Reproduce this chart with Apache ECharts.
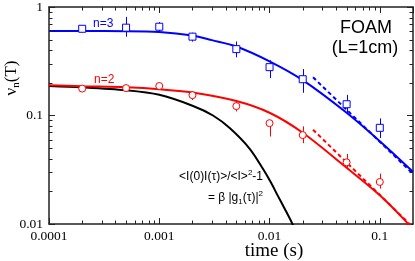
<!DOCTYPE html>
<html><head><meta charset="utf-8">
<script src="https://cdn.jsdelivr.net/npm/echarts@6/dist/echarts.min.js"></script>
<style>html,body{margin:0;padding:0;background:#fff}#c{width:415px;height:261px}</style>
</head><body><div id="c"></div>
<script>
// ---- axis ranges and ticks ----
const xMin = 1e-4, xMax = 0.2, yMin = 0.01, yMax = 1;
const xTickValues = [1e-4, 1e-3, 1e-2, 1e-1];
const xTickLabels = ['0.0001', '0.001', '0.01', '0.1'];
const yTickValues = [0.01, 0.1, 1];
const yTickLabels = ['0.01', '0.1', '1'];
const minorMultipliers = [2, 3, 4, 5, 6, 7, 8, 9];

// ---- measured points (time s, nu_n) ----
const n3Markers = [[2e-4,0.63],[5e-4,0.645],[1e-3,0.658],[2e-3,0.533],[5e-3,0.409],[1e-2,0.279],[2e-2,0.216],[5e-2,0.127],[0.1,0.077]];
const n3ErrorBars = [[5e-4,0.533,0.811],[1e-3,0.59,0.726],[2e-3,0.48,0.58],[5e-3,0.344,0.481],[1e-2,0.221,0.323],[2e-2,0.162,0.268],[5e-2,0.104,0.155],[0.1,0.062,0.094]];
const n2Markers = [[2e-4,0.177],[5e-4,0.179],[1e-3,0.187],[2e-3,0.154],[5e-3,0.122],[1e-2,0.085],[2e-2,0.066],[5e-2,0.037],[0.1,0.0244]];
const n2ErrorBars = [[2e-3,0.139,0.168],[5e-3,0.109,0.139],[1e-2,0.064,0.091],[2e-2,0.0556,0.0794],[5e-2,0.0322,0.0443],[0.1,0.0212,0.0291]];

// ---- fitted curves ----
const n3Curve = [[1e-4,0.601],[2e-4,0.600],[5e-4,0.599],[1e-3,0.589],[2e-3,0.545],[3e-3,0.495],[5e-3,0.433],[1e-2,0.316],[2e-2,0.212],[5e-2,0.106],[0.1,0.058],[0.2,0.0303]];
const n2Curve = [[1e-4,0.190],[2e-4,0.186],[5e-4,0.182],[1e-3,0.175],[2e-3,0.163],[5e-3,0.136],[1e-2,0.106],[2e-2,0.0693],[5e-2,0.033],[0.1,0.0184],[0.175,0.0104],[0.19,0.0092]];
const g1Curve = [[1e-4,0.187],[2e-4,0.1816],[5e-4,0.1706],[1e-3,0.155],[2e-3,0.123],[3.07e-3,0.100],[4.38e-3,0.0762],[6.64e-3,0.0491],[8.71e-3,0.0323],[1.03e-2,0.0241],[1.19e-2,0.01816],[1.38e-2,0.01368],[1.6e-2,0.0102],[1.65e-2,0.0094]];
const n3Asymptote = [[0.0248,0.225],[0.2,0.029]];
const n2Asymptote = [[0.0248,0.074],[0.19,0.0098]];

const BLUE = '#0000ff', RED = '#ff0000', AX = '#222';
const serif = 'Liberation Serif', sans = 'Liberation Sans';

const xMinor = [], yMinor = [];
xTickValues.forEach(d => minorMultipliers.forEach(m => { const v = d*m; if (v < xMax) xMinor.push([v, yMin]); }));
yTickValues.forEach(d => minorMultipliers.forEach(m => { const v = d*m; if (v < yMax) yMinor.push([xMin, v]); }));

function labelFor(values, labels) {
  return function (v) {
    const i = values.findIndex(t => Math.abs(Math.log10(t) - Math.log10(v)) < 1e-6);
    return i >= 0 ? labels[i] : '';
  };
}

function minorTickRender(dir, len) {
  return function (params, api) {
    const v0 = api.value(0), v1 = api.value(1);
    if (dir === 'x') {
      const pb = api.coord([v0, yMin]), pt = api.coord([v0, yMax]);
      const x = Math.round(pb[0]) + 0.5;
      return {type: 'group', children: [
        {type: 'line', shape: {x1: x, y1: pb[1], x2: x, y2: pb[1] - len}, style: {stroke: AX, lineWidth: 1}},
        {type: 'line', shape: {x1: x, y1: pt[1], x2: x, y2: pt[1] + len}, style: {stroke: AX, lineWidth: 1}}
      ]};
    } else {
      const pl = api.coord([xMin, v1]), pr = api.coord([xMax, v1]);
      const y = Math.round(pl[1]) + 0.5;
      return {type: 'group', children: [
        {type: 'line', shape: {x1: pl[0], y1: y, x2: pl[0] + len, y2: y}, style: {stroke: AX, lineWidth: 1}},
        {type: 'line', shape: {x1: pr[0], y1: y, x2: pr[0] - len, y2: y}, style: {stroke: AX, lineWidth: 1}}
      ]};
    }
  };
}

function errorRender(color) {
  return function (params, api) {
    const p1 = api.coord([api.value(0), api.value(1)]);
    const p2 = api.coord([api.value(0), api.value(2)]);
    const x = Math.round(p1[0]) + 0.5;
    return {type: 'line', shape: {x1: x, y1: p1[1], x2: x, y2: p2[1]}, style: {stroke: color, lineWidth: 1}};
  };
}

const axisCommon = {
  type: 'log', logBase: 10,
  axisLine: {show: true, onZero: false, lineStyle: {color: AX, width: 1.5}},
  axisTick: {show: true, inside: true, length: 6, lineStyle: {color: AX, width: 1}},
  splitLine: {show: false}, minorTick: {show: false}
};

const chart = echarts.init(document.getElementById('c'), null, {renderer: 'canvas'});
chart.setOption({
  animation: false,
  backgroundColor: '#fff',
  grid: {left: 49, right: 2, top: 4, bottom: 37, containLabel: false},
  xAxis: [
    Object.assign({}, axisCommon, {min: xMin, max: xMax, position: 'bottom',
      axisLabel: {show: true, formatter: labelFor(xTickValues, xTickLabels), fontFamily: serif, fontSize: 13.5, color: '#000', margin: 5, showMaxLabel: false, showMinLabel: true}}),
    Object.assign({}, axisCommon, {min: xMin, max: xMax, position: 'top', axisLabel: {show: false}})
  ],
  yAxis: [
    Object.assign({}, axisCommon, {min: yMin, max: yMax, position: 'left',
      axisLabel: {show: true, formatter: labelFor(yTickValues, yTickLabels), fontFamily: serif, fontSize: 13.5, color: '#000', margin: 6}}),
    Object.assign({}, axisCommon, {min: yMin, max: yMax, position: 'right', axisLabel: {show: false}})
  ],
  series: [
    {type: 'custom', renderItem: minorTickRender('x', 3.5), data: xMinor, encode: {x: 0, y: 1}, clip: false, silent: true, z: 5},
    {type: 'custom', renderItem: minorTickRender('y', 3.5), data: yMinor, encode: {x: 0, y: 1}, clip: false, silent: true, z: 5},
    {type: 'line', data: g1Curve, smooth: 0.3, showSymbol: false, symbol: 'none', lineStyle: {color: '#000', width: 2}, z: 2},
    {type: 'line', data: n2Curve, smooth: 0.3, showSymbol: false, symbol: 'none', lineStyle: {color: RED, width: 2}, z: 2},
    {type: 'line', data: n3Curve, smooth: 0.3, showSymbol: false, symbol: 'none', lineStyle: {color: BLUE, width: 2}, z: 2},
    {type: 'line', data: n2Asymptote, showSymbol: false, symbol: 'none', lineStyle: {color: RED, width: 2, type: [4, 3]}, z: 2},
    {type: 'line', data: n3Asymptote, showSymbol: false, symbol: 'none', lineStyle: {color: BLUE, width: 2, type: [4, 3]}, z: 2},
    {type: 'custom', renderItem: errorRender(RED), data: n2ErrorBars, encode: {x: 0, y: [1, 2]}, silent: true, z: 3},
    {type: 'custom', renderItem: errorRender(BLUE), data: n3ErrorBars, encode: {x: 0, y: [1, 2]}, silent: true, z: 3},
    {type: 'scatter', data: n2Markers, symbol: 'circle', symbolSize: 7, itemStyle: {color: '#fff', borderColor: RED, borderWidth: 1, opacity: 1}, z: 4},
    {type: 'scatter', data: n3Markers, symbol: 'rect', symbolSize: 7, itemStyle: {color: '#fff', borderColor: BLUE, borderWidth: 1, opacity: 1}, z: 4}
  ],
  graphic: [
    {type: 'text', x: 93, y: 24, style: {text: 'n=3', fill: BLUE, font: '12px "Liberation Sans"', align: 'left', verticalAlign: 'middle'}, z: 10},
    {type: 'text', x: 94, y: 80, style: {text: 'n=2', fill: RED, font: '12px "Liberation Sans"', align: 'left', verticalAlign: 'middle'}, z: 10},
    {type: 'text', x: 366, y: 28, style: {text: 'FOAM', fill: '#000', font: '18px "Liberation Sans"', align: 'center', verticalAlign: 'middle'}, z: 10},
    {type: 'text', x: 365, y: 48, style: {text: '(L=1cm)', fill: '#000', font: '18px "Liberation Sans"', align: 'center', verticalAlign: 'middle'}, z: 10},
    {type: 'text', x: 263, y: 177, style: {text: '{a|<I(0)I(τ)>/<I>}{s|2}{a|-1}', align: 'right', verticalAlign: 'middle',
      rich: {a: {fontFamily: sans, fontSize: 12, fill: '#000', lineHeight: 16, verticalAlign: 'middle'}, s: {fontFamily: sans, fontSize: 8, fill: '#000', lineHeight: 8, verticalAlign: 'top'}}}, z: 10},
    {type: 'text', x: 263, y: 198, style: {text: '{a|= β |g}{b|1}{a|(τ)|}{s|2}', align: 'right', verticalAlign: 'middle',
      rich: {a: {fontFamily: sans, fontSize: 12, fill: '#000', lineHeight: 16, verticalAlign: 'middle'}, b: {fontFamily: sans, fontSize: 8, fill: '#000', lineHeight: 8, verticalAlign: 'bottom'}, s: {fontFamily: sans, fontSize: 8, fill: '#000', lineHeight: 8, verticalAlign: 'top'}}}, z: 10},
    {type: 'text', x: 274, y: 251, style: {text: 'time (s)', fill: '#000', font: '19px "Liberation Serif"', align: 'center', verticalAlign: 'middle'}, z: 10},
    {type: 'text', x: 12, y: 78, rotation: Math.PI / 2, style: {text: '{a|ν}{b|n}{a|(T)}', align: 'center', verticalAlign: 'middle',
      rich: {a: {fontFamily: serif, fontSize: 17, fill: '#000', lineHeight: 20, verticalAlign: 'middle'}, b: {fontFamily: serif, fontSize: 11, fill: '#000', lineHeight: 11, verticalAlign: 'bottom'}}}, z: 10}
  ]
});
</script></body></html>
